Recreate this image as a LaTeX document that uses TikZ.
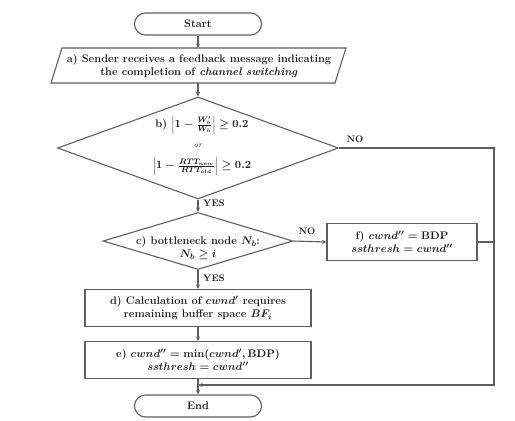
\documentclass[tikz,border=0pt]{standalone}
\usetikzlibrary{shapes.geometric,arrows.meta}
\definecolor{lc}{RGB}{95,95,95}
\definecolor{tc}{RGB}{30,30,30}
\begin{document}
\begin{tikzpicture}[x=1pt,y=-1pt,
  line/.style={draw=lc, line width=1.1pt},
  arr/.style={line, -{Stealth[length=4.5pt,width=4pt]}},
  bodyfont/.style={font=\fontsize{11}{13}\selectfont\bfseries\boldmath, text=tc},
  term/.style={draw=lc, line width=1.1pt, rounded corners=11pt, minimum width=127pt, minimum height=22pt, inner sep=0pt, bodyfont},
  box/.style={draw=lc, line width=1.1pt, minimum width=226pt, minimum height=37pt, inner sep=0pt, align=center, bodyfont},
  dia/.style={draw=lc, line width=1.1pt, diamond, inner sep=0pt},
  txt/.style={align=center, inner sep=0pt, bodyfont},
  lbl/.style={font=\fontsize{9.5}{10}\selectfont\bfseries, text=tc, inner sep=0pt}]
\path[fill=white] (0,0) rectangle (515,421);
\useasboundingbox (0,0) rectangle (515,421);

% nodes
\node[term] (start) at (198,24) {Start};
\draw[line] (62,48) -- (346,48) -- (335,83) -- (51,83) -- cycle;
\coordinate (atop) at (198,48);
\coordinate (abot) at (198,83);
\node[txt] (a) at (199,65.5) {a) Sender receives a feedback message indicating\\ the completion of \textit{channel switching}};

\node[dia, minimum width=281pt, minimum height=102pt] (b) at (198,148) {};
\node[txt] (b1) at (202,125) {b) $\left|1-\frac{W'_b}{W_b}\right|\geq 0.2$};
\node[txt, font=\fontsize{8}{9}\selectfont\itshape] (bor) at (198,146) {or};
\node[txt] (b2) at (202,166) {$\left|1-\frac{RTT_{new}}{RTT_{old}}\right|\geq 0.2$};

\node[dia, minimum width=190pt, minimum height=57pt] (c) at (198,241) {};
\node[txt] (ct) at (198,248) {c) bottleneck node $N_b$:\\ $N_b\geq i$};

\node[box] (d) at (198,308) {d) Calculation of $cwnd'$ requires\\ remaining buffer space $BF_i$};
\node[box] (e) at (198,360) {e) $cwnd''=\min(cwnd',\mathrm{BDP})$\\ $ssthresh=cwnd''$};
\node[box, minimum width=150pt] (f) at (402,242) {f) $cwnd''=\mathrm{BDP}$\\ $ssthresh=cwnd''$};
\node[term] (end) at (198,406) {End};

\coordinate (r1) at (494,148);
\coordinate (r2) at (494,385);
\coordinate (m) at (198,385);

% connectors
\draw[arr] (start.south) -- (atop);
\draw[arr] (abot) -- (b.north);
\draw[arr] (b.south) -- (c.north);
\draw[arr] (c.south) -- (d.north);
\draw[arr] (d.south) -- (e.north);
\draw[arr] (e.south) -- (end.north);
\draw[arr] (c.east) -- (f.west);
\draw[arr] (b.east) -- (r1) -- (r2) -- (m);
\draw[line] (f.east) -- (f.east -| r1);

% labels
\node[lbl] (no1) at (355,139) {NO};
\node[lbl] (yes1) at (214,203) {YES};
\node[lbl] (no2) at (307,231) {NO};
\node[lbl] (yes2) at (214,278) {YES};
\end{tikzpicture}
\end{document}
